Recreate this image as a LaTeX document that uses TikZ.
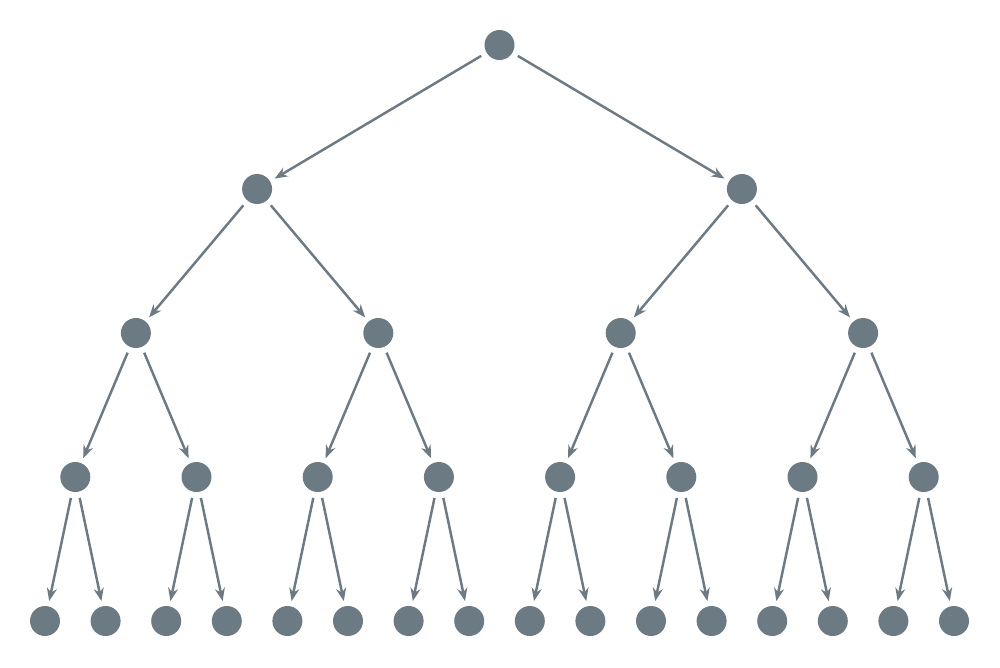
\documentclass[tikz,border=0pt]{standalone}
\usepackage{tikz}
\usetikzlibrary{arrows.meta}

\definecolor{treegray}{HTML}{6C7A84}

\begin{document}
\begin{tikzpicture}[x=0.02cm,y=-0.02cm,
    vertex/.style={circle,fill=treegray,minimum size=0.6cm,inner sep=0pt},
    edge/.style={treegray,line width=1.4pt,-{Stealth[length=2.6mm,width=2mm]},shorten <=1.2mm,shorten >=1mm}]
    \useasboundingbox (0,0) rectangle (1000,667);
    % nodes, level by level
    \foreach \lvl in {0,...,4} {
        \pgfmathtruncatemacro{\cnt}{2^\lvl-1}
        \pgfmathsetmacro{\sp}{60.6*2^(4-\lvl)}
        \foreach \i in {0,...,\cnt} {
            \node[vertex] (n\lvl-\i) at ({45+(\sp-60.6)/2+\i*\sp}, {45+144*\lvl}) {};
        }
    }
    % edges from each parent to its two children
    \foreach \lvl in {0,...,3} {
        \pgfmathtruncatemacro{\cnt}{2^\lvl-1}
        \pgfmathtruncatemacro{\nxt}{\lvl+1}
        \foreach \i in {0,...,\cnt} {
            \pgfmathtruncatemacro{\l}{2*\i}
            \pgfmathtruncatemacro{\r}{2*\i+1}
            \draw[edge] (n\lvl-\i) -- (n\nxt-\l);
            \draw[edge] (n\lvl-\i) -- (n\nxt-\r);
        }
    }
\end{tikzpicture}
\end{document}
